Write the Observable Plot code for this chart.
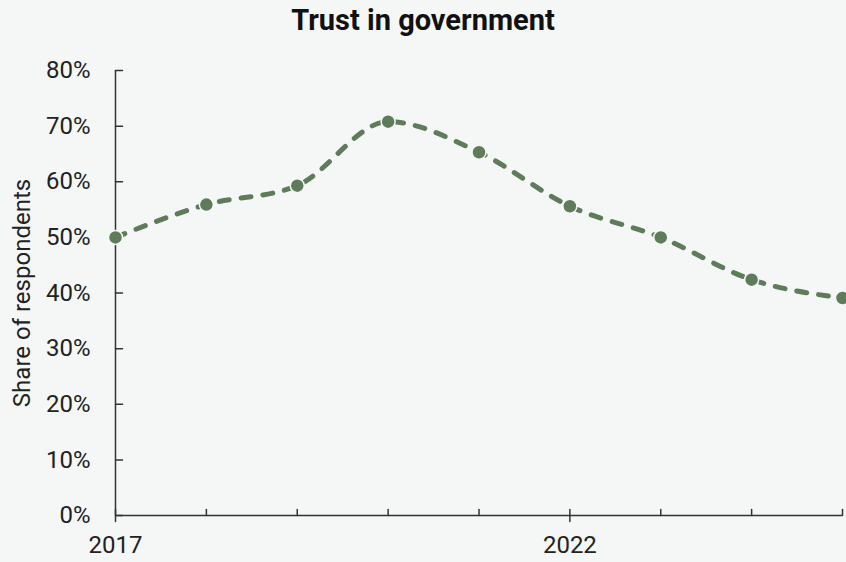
<!DOCTYPE html>
<html>
<head>
<meta charset="utf-8">
<script src="https://cdn.jsdelivr.net/npm/d3@7"></script>
<script src="https://cdn.jsdelivr.net/npm/@observablehq/plot@0.6"></script>
<style>
  html, body { margin: 0; padding: 0; background: #f5f7f6; }
  #title { font-family: Roboto, sans-serif; font-weight: bold; font-size: 29px; text-align: center; height: 40px; line-height: 40px; color: #111; width: 846px; }
  #chart svg { display: block; }
</style>
</head>
<body>
<div id="title">Trust in government</div>
<div id="chart"></div>
<script>
const years = [2017, 2018, 2019, 2020, 2021, 2022, 2023, 2024, 2025];
const values = [50.0, 55.9, 59.3, 70.8, 65.3, 55.6, 50.0, 42.4, 39.1];
const yTicks = [0, 10, 20, 30, 40, 50, 60, 70, 80];
const majorYears = [2017, 2022];
const minorYears = [2018, 2019, 2020, 2021, 2023, 2024, 2025];
const yLabel = "Share of respondents";

const data = years.map((y, i) => ({year: y, value: values[i]}));
const lineColor = "#5e7b5a";
const bg = "#f5f7f6";
const axisColor = "#333";
const x0 = years[0], x1 = years[years.length - 1];

const tickShape = {draw(context, l) { context.moveTo(0, 0); context.lineTo(0, -l); }};
const crossShape = {draw(context, l) { context.moveTo(0, l / 2); context.lineTo(0, -l / 2); }};

const chart = Plot.plot({
  width: 846,
  height: 522,
  marginTop: 30,
  marginBottom: 47,
  marginLeft: 115,
  marginRight: 4,
  style: {fontFamily: "Roboto, sans-serif", fontSize: "24px", background: bg, color: "#222"},
  x: {domain: [x0, x1], label: null},
  y: {domain: [0, 80], label: null},
  marks: [
    Plot.ruleX([x0], {y1: 0, y2: 80, stroke: axisColor, strokeWidth: 1.5}),
    Plot.ruleY([0], {x1: x0, x2: x1, stroke: axisColor, strokeWidth: 1.5}),
    Plot.vector(yTicks, {x: () => x0, y: d => d, length: 7, rotate: 90, anchor: "start", shape: tickShape, stroke: axisColor, strokeWidth: 1.5}),
    Plot.vector(minorYears, {x: d => d, y: () => 0, length: 6, rotate: 0, anchor: "start", shape: tickShape, stroke: axisColor, strokeWidth: 1.5}),
    Plot.vector(majorYears, {x: d => d, y: () => 0, length: 12, rotate: 0, anchor: "start", shape: crossShape, stroke: axisColor, strokeWidth: 1.5}),
    Plot.axisY(yTicks, {tickSize: 0, tickPadding: 25, tickFormat: d => d + "%", fontSize: 24, label: null}),
    Plot.axisX(majorYears, {tickSize: 0, tickPadding: 20, tickFormat: d => String(d), fontSize: 24, label: null}),
    Plot.text([yLabel], {frameAnchor: "left", textAnchor: "middle", text: d => d, rotate: -90, dx: -93, fontSize: 24, fill: "#222"}),
    Plot.line(data, {x: "year", y: "value", curve: "monotone-x", stroke: lineColor, strokeWidth: 5, strokeDasharray: "10,12", strokeLinecap: "round"}),
    Plot.dot(data, {x: "year", y: "value", r: 7, fill: lineColor, stroke: bg, strokeWidth: 1.5})
  ]
});
document.getElementById("chart").appendChild(chart);
</script>
</body>
</html>
